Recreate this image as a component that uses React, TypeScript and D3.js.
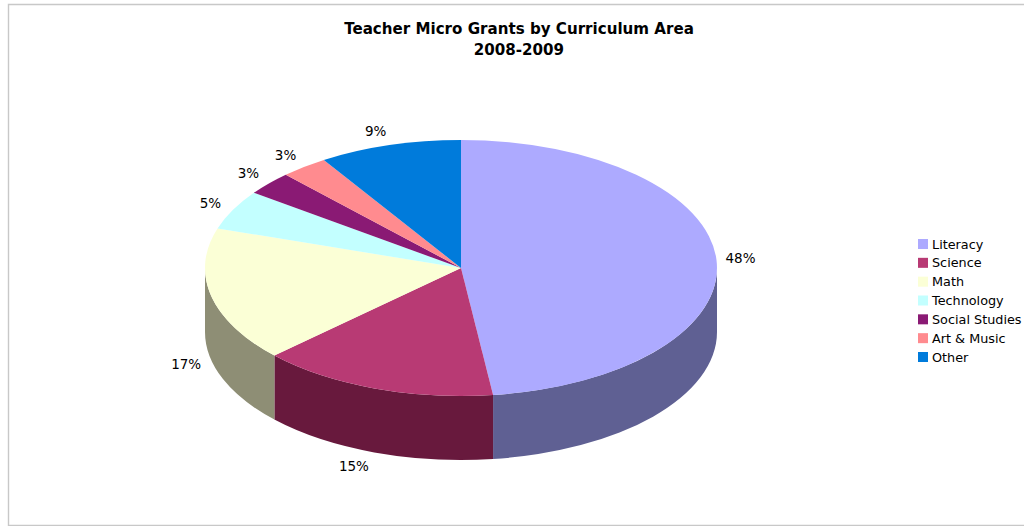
import React from "react";
import * as d3 from "d3";

const titleLines = ["Teacher Micro Grants by Curriculum Area", "2008-2009"];
const categories = ["Literacy", "Science", "Math", "Technology", "Social Studies", "Art & Music", "Other"];
const values = [48, 15, 17, 5, 3, 3, 9];
const topColors = ["#adaaff", "#b83a74", "#fbffd6", "#c3ffff", "#8a1a74", "#ff8b8f", "#007bdb"];
const sideColors = ["#5f6093", "#68193d", "#8e8e75", "#6f9090", "#4e0f42", "#904f51", "#00467c"];

const W = 1024, H = 526;
const cx = 461, cy = 268, rx = 256, ry = 128, depth = 64;
const FONT = "'DejaVu Sans', sans-serif";

const pieGen = d3.pie<number>().sort(null).startAngle(0).endAngle(2 * Math.PI);
const arcs = pieGen(values);
const arcGen = d3.arc<d3.PieArcDatum<number>>().innerRadius(0).outerRadius(rx);
const px = (a: number) => cx + rx * Math.sin(a);
const py = (a: number) => cy - ry * Math.cos(a);

function wall(a0: number, a1: number) {
  const s = Math.max(a0, Math.PI / 2), e = Math.min(a1, (3 * Math.PI) / 2);
  if (s >= e) return null;
  return `M${px(s)},${py(s)}A${rx},${ry} 0 0 1 ${px(e)},${py(e)}L${px(e)},${py(e) + depth}A${rx},${ry} 0 0 0 ${px(s)},${py(s) + depth}Z`;
}

const legendY = d3.scalePoint<string>().domain(categories).range([244, 357]);

export default function App() {
  return (
    <svg width={W} height={H} style={{ position: "absolute", left: 0, top: 0, background: "#fff" }} fontFamily={FONT}>
      <path d={`M${W},4.5H8.5V525.5H${W}`} fill="none" stroke="#c8c8c8" strokeWidth={1.4} />
      {titleLines.map((t, i) => (
        <text key={t} x={519} y={34 + i * 21} textAnchor="middle" fontSize={15.1} fontWeight="bold" fill="#000">{t}</text>
      ))}
      {arcs.map((d, i) => {
        const p = wall(d.startAngle, d.endAngle);
        return p ? <path key={i} d={p} fill={sideColors[i]} /> : null;
      })}
      <g transform={`translate(${cx},${cy}) scale(1,${ry / rx})`}>
        {arcs.map((d, i) => <path key={i} d={arcGen(d)!} fill={topColors[i]} />)}
      </g>
      {arcs.map((d, i) => {
        const m = (d.startAngle + d.endAngle) / 2;
        const s = Math.sin(m), c = Math.cos(m);
        const x = px(m) + Math.sign(s) * (10 + 14 * Math.abs(s) + (c < 0 ? -c * 6 : 0));
        const y = py(m) - 14 * c + (c < 0 ? depth + 1 : -0.5);
        return (
          <text key={i} x={x} y={y} dy="0.36em" textAnchor="middle" fontSize={13.5} fill="#000">
            {values[i]}%
          </text>
        );
      })}
      {categories.map((c, i) => {
        const y = legendY(c)!;
        return (
          <g key={c}>
            <rect x={918} y={y - 5} width={10} height={10} fill={topColors[i]} />
            <text x={932} y={y} dy="0.36em" fontSize={12.8} fill="#000">{c}</text>
          </g>
        );
      })}
    </svg>
  );
}
